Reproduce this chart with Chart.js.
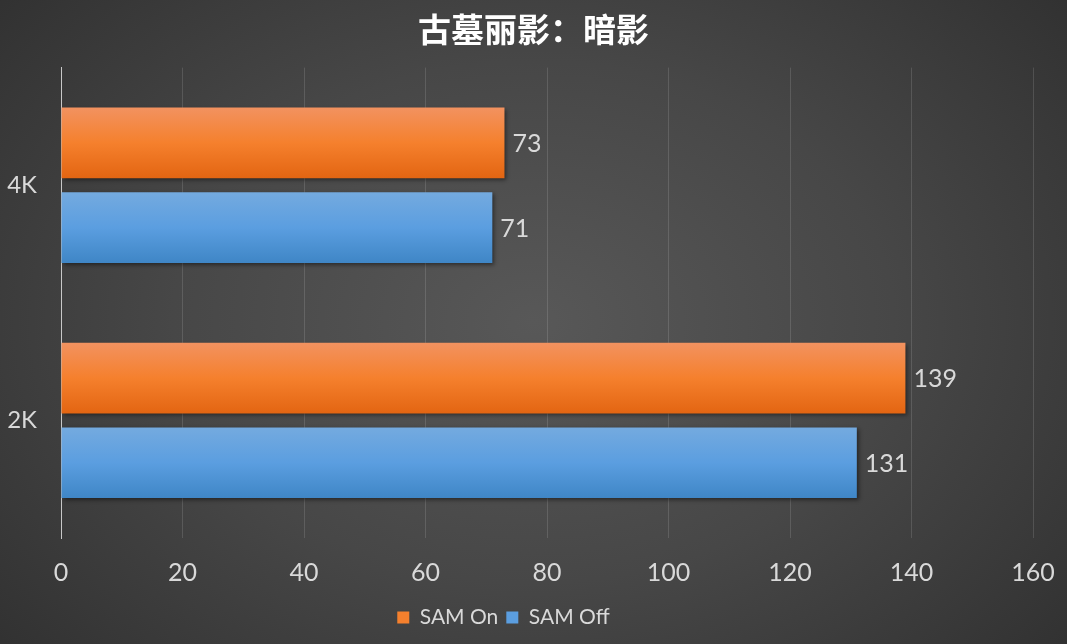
<!DOCTYPE html>
<html>
<head>
<meta charset="utf-8">
<script src="https://cdn.jsdelivr.net/npm/chart.js@4"></script>
<style>
  html, body { margin: 0; padding: 0; }
  body { width: 1067px; height: 644px; overflow: hidden;
    background: radial-gradient(ellipse 75% 90% at 50% 50%, #585858 0%, #474747 45%, #2b2b2b 100%); }
  #wrap { width: 1067px; height: 644px; }
</style>
</head>
<body>
<div id="wrap"><canvas id="c"></canvas></div>
<script>
const titleText = "古墓丽影：暗影";
const categories = ["4K", "2K"];
const seriesNames = ["SAM On", "SAM Off"];
const samOn = [73, 139];
const samOff = [71, 131];
const xTicks = [0, 20, 40, 60, 80, 100, 120, 140, 160];

const txt = "#d9d9d9";

// gradient stops per dataset (top -> bottom)
const stops = [
  ["#f29260", "#f5802d", "#e36512"],
  ["#74aadf", "#5b9ee0", "#3f86c6"]
];

const barLook = {
  id: "barLook",
  afterLayout(chart) {
    // legend sits a bit left of centre in the original
    chart.legend.left -= 30;
    chart.legend.right -= 30;
  },
  beforeDatasetsDraw(chart) {
    const ctx = chart.ctx;
    chart.data.datasets.forEach((ds, i) => {
      chart.getDatasetMeta(i).data.forEach(el => {
        const top = el.y - el.height / 2, bot = el.y + el.height / 2;
        const g = ctx.createLinearGradient(0, top, 0, bot);
        g.addColorStop(0, stops[i][0]);
        g.addColorStop(0.5, stops[i][1]);
        g.addColorStop(1, stops[i][2]);
        el.options.backgroundColor = g;
      });
    });
    ctx.save();
    ctx.shadowColor = "rgba(0,0,0,0.45)";
    ctx.shadowBlur = 4;
    ctx.shadowOffsetX = 2;
    ctx.shadowOffsetY = 2;
  },
  afterDatasetsDraw(chart) {
    const ctx = chart.ctx;
    ctx.restore();
    ctx.save();
    ctx.fillStyle = txt;
    ctx.font = "25px Lato";
    ctx.textBaseline = "middle";
    chart.data.datasets.forEach((ds, i) => {
      chart.getDatasetMeta(i).data.forEach((el, j) => {
        ctx.fillText(ds.data[j], el.x + 8, el.y + 1);
      });
    });
    ctx.restore();
  }
};

new Chart(document.getElementById("c"), {
  type: "bar",
  data: {
    labels: categories,
    datasets: [
      // scriptable colours so each bar gets its own options object
      { label: seriesNames[0], data: samOn, backgroundColor: () => "#f5802d" },
      { label: seriesNames[1], data: samOff, backgroundColor: () => "#5b9ee0" }
    ]
  },
  options: {
    indexAxis: "y",
    responsive: true,
    maintainAspectRatio: false,
    animation: false,
    categoryPercentage: 0.72,
    barPercentage: 0.835,
    layout: { padding: { left: 0, right: 0, top: 0, bottom: 6 } },
    scales: {
      x: {
        min: 0, max: 160,
        afterBuildTicks: s => { s.ticks = xTicks.map(v => ({ value: v })); },
        grid: { color: "rgba(255,255,255,0.13)", drawTicks: false },
        border: { display: false },
        ticks: { color: txt, font: { family: "Lato", size: 25 }, padding: 20 },
        afterFit: s => { s.height = 61; s.paddingRight = 34; s.paddingLeft = 0; }
      },
      y: {
        grid: { display: false },
        border: { display: true, color: "#c8c8c8", width: 1 },
        ticks: { color: txt, font: { family: "Lato", size: 24 }, padding: 16 },
        afterFit: s => { s.width = 61; }
      }
    },
    plugins: {
      title: {
        display: true, text: titleText, color: "#ffffff",
        font: { family: "Noto Sans CJK SC", size: 33, weight: "bold" },
        padding: { top: 10, bottom: 18 }
      },
      legend: {
        position: "bottom",
        labels: { color: txt, font: { family: "Lato", size: 21 }, boxWidth: 12, boxHeight: 12, padding: 8 }
      },
      tooltip: { enabled: false }
    }
  },
  plugins: [barLook]
});
</script>
</body>
</html>
